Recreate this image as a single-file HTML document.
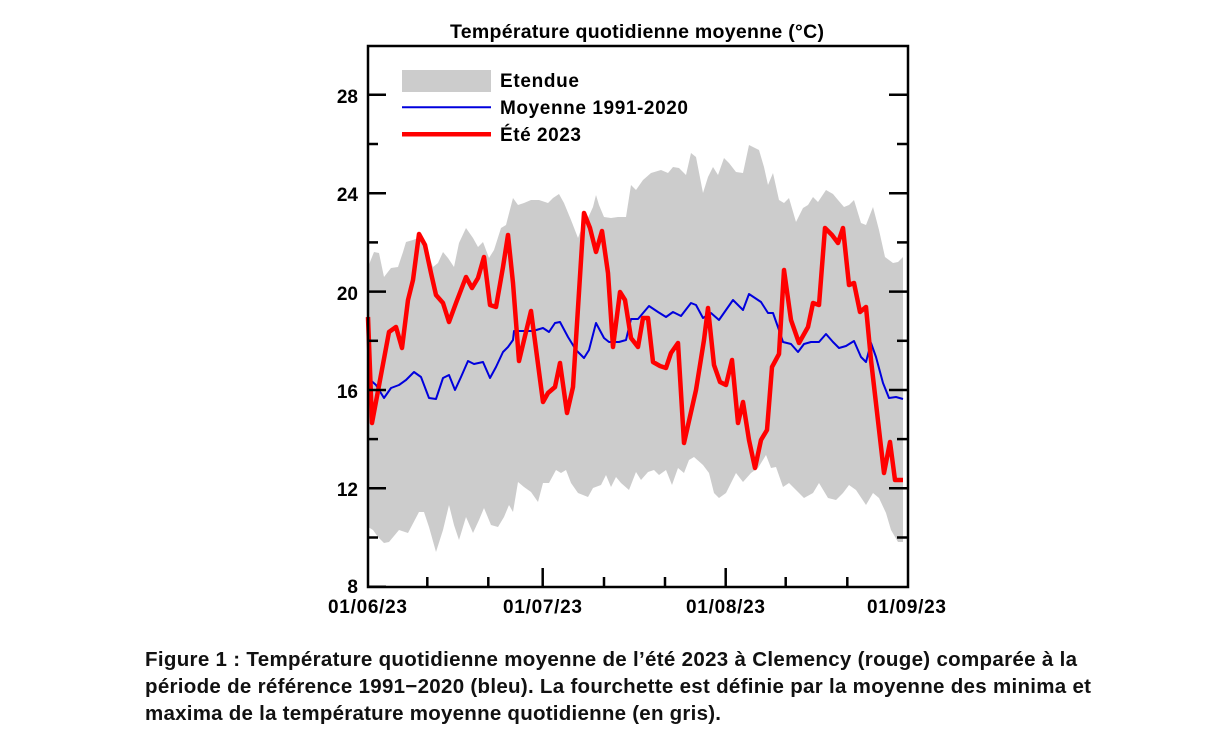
<!DOCTYPE html>
<html>
<head>
<meta charset="utf-8">
<style>
html,body{margin:0;padding:0;background:#fff;}
svg{display:block;}
text{font-family:"Liberation Sans",Arial,sans-serif;font-weight:bold;fill:#000;}
</style>
</head>
<body>
<svg width="1224" height="748" viewBox="0 0 1224 748" xmlns="http://www.w3.org/2000/svg">
<rect width="1224" height="748" fill="#fff"/>

<!-- Title -->
<text x="450" y="38" font-size="19.5" textLength="374" lengthAdjust="spacing">Température quotidienne moyenne (°C)</text>

<!-- Range band -->
<polygon fill="#cccccc" points="
368,267 374,252 379,253 384,277 391,268 398,267 403,252 406,242 413,240 418,238 424,240 428,253 433,267 438,263 443,252 448,258 454,267 459,243 466,228 473,238 478,247 483,242 489,258 494,250 501,228 506,225 513,198 518,205 524,203 531,200 539,200 548,203 553,198 559,194 564,203 571,220 578,238 582,227 588,218 593,207 596,195 599,205 604,217 611,218 618,217 626,217 631,185 636,190 643,180 651,173 661,170 668,173 673,167 679,168 686,175 691,153 696,157 703,193 708,177 713,167 718,175 724,158 729,163 736,172 743,173 749,145 759,150 764,167 768,185 773,173 779,200 784,203 789,198 796,222 803,208 808,205 813,197 818,202 826,190 833,194 838,200 844,207 849,205 854,200 861,223 866,225 873,207 879,230 885,257 893,263 898,262 903,257
903,542 898,542 891,530 886,513 879,498 873,493 866,505 856,490 849,485 843,493 836,500 828,498 819,483 813,493 804,498 798,492 789,483 783,487 776,467 771,468 766,455 758,468 751,473 743,482 736,473 731,483 726,493 719,498 714,493 709,473 703,465 694,457 689,460 684,473 678,468 672,485 666,470 659,475 654,470 648,472 641,480 636,472 629,490 621,483 616,477 611,487 606,475 601,485 593,488 588,497 578,493 571,483 566,470 561,473 556,470 549,483 543,483 538,502 531,492 524,487 518,482 513,512 509,505 504,517 498,527 491,525 484,508 479,520 473,533 466,517 459,540 454,525 449,505 443,530 436,552 429,527 424,512 419,512 408,533 399,530 389,542 384,543 378,537 373,530 368,527"/>

<!-- Blue mean line -->
<polyline fill="none" stroke="#0000dd" stroke-width="2" stroke-linejoin="round" points="
368,378 376,385 384,398 391,388 399,385 406,380 414,372 421,377 429,398 436,399 443,378 449,375 455,390 461,377 468,361 474,364 483,362 490,378 496,367 503,352 508,347 513,340 514,331 533,331 543,328 549,332 555,323 560,322 568,337 576,350 584,358 589,350 596,323 604,338 609,342 619,342 626,340 631,319 638,319 649,306 658,312 666,317 673,312 681,316 691,303 696,305 703,318 711,313 719,320 733,300 743,310 749,294 761,302 768,313 773,313 779,330 783,342 791,344 798,352 804,344 811,342 819,342 826,334 833,342 839,348 846,346 854,341 861,357 866,362 871,343 876,357 883,383 889,398 896,397 903,399"/>

<!-- Red 2023 line -->
<polyline fill="none" stroke="#ff0000" stroke-width="4.5" stroke-linejoin="round" points="
368,317 372,423 389,332 396,327 402,348 408,300 413,280 419,234 425,245 431,273 436,295 443,303 449,322 456,303 466,277 472,288 478,278 484,257 490,305 496,307 503,267 508,235 513,283 519,361 531,311 543,402 548,393 555,387 560,363 567,413 573,387 584,213 590,228 596,252 602,231 608,273 613,347 620,292 625,300 631,338 638,347 643,318 648,318 653,362 660,366 666,368 671,353 678,343 684,443 696,390 704,340 708,308 714,365 720,382 726,385 732,360 738,423 743,402 749,440 755,468 761,440 767,430 772,367 779,354 784,270 791,320 799,343 808,327 813,303 819,305 825,228 832,235 838,243 843,228 849,285 854,283 860,312 866,307 871,360 884,473 890,442 895,480 903,480"/>

<!-- Axes box -->
<rect x="368" y="46" width="540" height="541" fill="none" stroke="#000" stroke-width="2.5"/>

<!-- Y ticks left & right -->
<g stroke="#000" stroke-width="2.5">
  <line x1="368" y1="586.7" x2="386" y2="586.7"/>
  <line x1="368" y1="537.5" x2="378" y2="537.5"/>
  <line x1="368" y1="488.3" x2="386" y2="488.3"/>
  <line x1="368" y1="439.1" x2="378" y2="439.1"/>
  <line x1="368" y1="390" x2="386" y2="390"/>
  <line x1="368" y1="340.8" x2="378" y2="340.8"/>
  <line x1="368" y1="291.6" x2="386" y2="291.6"/>
  <line x1="368" y1="242.4" x2="378" y2="242.4"/>
  <line x1="368" y1="193.2" x2="386" y2="193.2"/>
  <line x1="368" y1="144" x2="378" y2="144"/>
  <line x1="368" y1="94.8" x2="386" y2="94.8"/>

  <line x1="908" y1="537.5" x2="897" y2="537.5"/>
  <line x1="908" y1="488.3" x2="889" y2="488.3"/>
  <line x1="908" y1="439.1" x2="897" y2="439.1"/>
  <line x1="908" y1="390" x2="889" y2="390"/>
  <line x1="908" y1="340.8" x2="897" y2="340.8"/>
  <line x1="908" y1="291.6" x2="889" y2="291.6"/>
  <line x1="908" y1="242.4" x2="897" y2="242.4"/>
  <line x1="908" y1="193.2" x2="889" y2="193.2"/>
  <line x1="908" y1="144" x2="897" y2="144"/>
  <line x1="908" y1="94.8" x2="889" y2="94.8"/>

  <!-- X ticks -->
  <line x1="427.3" y1="587" x2="427.3" y2="577"/>
  <line x1="488.3" y1="587" x2="488.3" y2="577"/>
  <line x1="542.7" y1="587" x2="542.7" y2="568"/>
  <line x1="604" y1="587" x2="604" y2="577"/>
  <line x1="665" y1="587" x2="665" y2="577"/>
  <line x1="725.7" y1="587" x2="725.7" y2="568"/>
  <line x1="785.7" y1="587" x2="785.7" y2="577"/>
  <line x1="847.3" y1="587" x2="847.3" y2="577"/>
</g>

<!-- Y tick labels -->
<g font-size="19" text-anchor="end">
  <text x="358" y="593">8</text>
  <text x="358" y="496">12</text>
  <text x="358" y="398">16</text>
  <text x="358" y="300">20</text>
  <text x="358" y="201">24</text>
  <text x="358" y="103">28</text>
</g>

<!-- X tick labels -->
<g font-size="19">
  <text x="328" y="613" textLength="79" lengthAdjust="spacing">01/06/23</text>
  <text x="503" y="613" textLength="79" lengthAdjust="spacing">01/07/23</text>
  <text x="686" y="613" textLength="79" lengthAdjust="spacing">01/08/23</text>
  <text x="867" y="613" textLength="79" lengthAdjust="spacing">01/09/23</text>
</g>

<!-- Legend -->
<rect x="402" y="70" width="89" height="22" fill="#cccccc"/>
<line x1="402" y1="107.3" x2="491" y2="107.3" stroke="#0000dd" stroke-width="2"/>
<line x1="402" y1="134.3" x2="491" y2="134.3" stroke="#ff0000" stroke-width="4.5"/>
<g font-size="19">
  <text x="500" y="87" textLength="79" lengthAdjust="spacing">Etendue</text>
  <text x="500" y="114" textLength="188" lengthAdjust="spacing">Moyenne 1991-2020</text>
  <text x="500" y="141" textLength="81" lengthAdjust="spacing">Été 2023</text>
</g>

<!-- Caption -->
<g font-size="20.5">
  <text x="145" y="666" textLength="932" lengthAdjust="spacing" style="fill:#111">Figure 1 : Température quotidienne moyenne de l’été 2023 à Clemency (rouge) comparée à la</text>
  <text x="145" y="693" textLength="946" lengthAdjust="spacing" style="fill:#111">période de référence 1991−2020 (bleu). La fourchette est définie par la moyenne des minima et</text>
  <text x="145" y="720" textLength="576" lengthAdjust="spacing" style="fill:#111">maxima de la température moyenne quotidienne (en gris).</text>
</g>
</svg>
</body>
</html>
